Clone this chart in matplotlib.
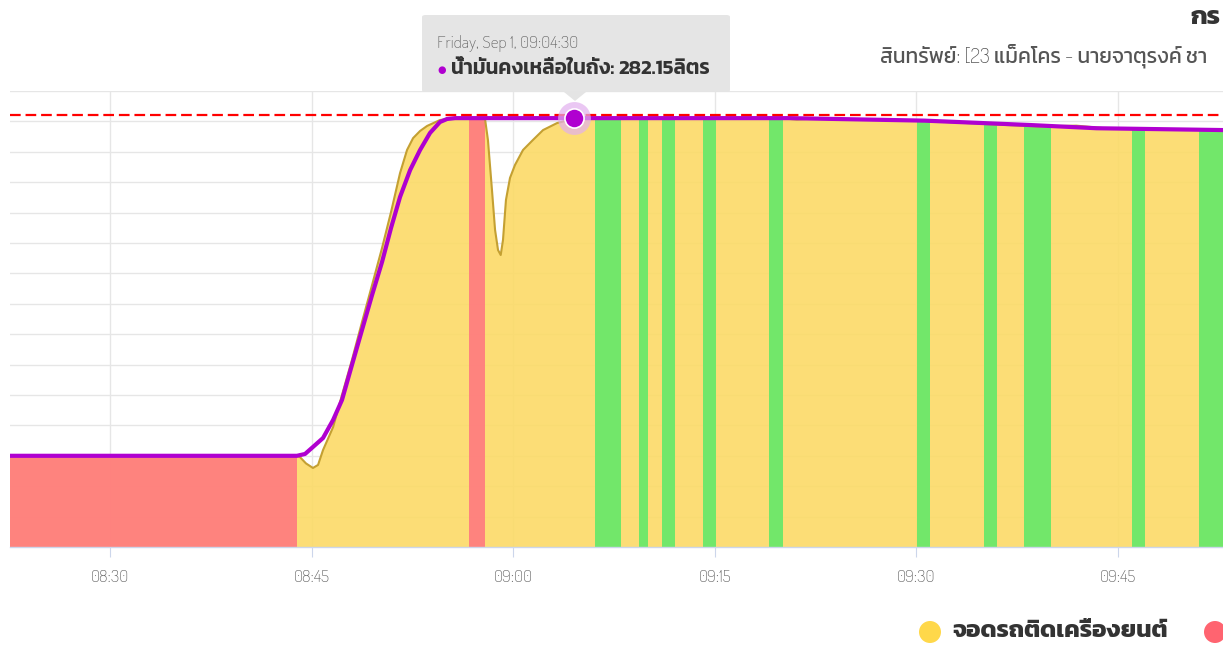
import matplotlib
matplotlib.use("Agg")
import matplotlib.pyplot as plt
from matplotlib.patches import Polygon, FancyBboxPatch, Circle
import matplotlib.ticker as mticker

FONT = ['Dosis', 'Kanit', 'Bai Jamjuree', 'DejaVu Sans']
THAI = ['Kanit', 'Bai Jamjuree', 'DejaVu Sans']
plt.rcParams['font.family'] = FONT

# ---------------- data (minutes after 08:00) ----------------
raw_t = [22.56, 43.9, 44.13, 44.58, 45.1, 45.48, 45.85, 46.6, 47.26, 48.0, 48.75,
         49.5, 50.24, 50.91, 51.58, 52.1, 52.55, 53.07, 53.59, 54.55, 55.3,
         57.9, 58.12, 58.42, 58.65, 58.87, 59.07, 59.24, 59.46, 59.76, 60.13,
         60.73, 61.47, 62.22, 63.26, 64.45,
         70.0, 79.5, 81.1, 82.5, 84.2, 86.7, 90.0, 96.0, 99.0, 101.9, 104.0, 107.0, 112.81]
raw_v = [60, 60, 59.2, 55, 52, 54, 63.8, 78.9, 100, 123, 148,
         172.4, 196.7, 220.4, 246, 261.2, 269, 273.7, 277, 280.9, 281.9,
         281.8, 267.8, 234.9, 208.6, 195.4, 192.1, 202, 228.3, 242.8, 251.3,
         261.2, 267.8, 274.3, 278.9, 281.6,
         282.2, 282.3, 281.2, 282.0, 281.0, 281.3, 280.6, 277.9, 276.7, 277.2, 275.5, 275.0, 274.4]

fuel_t = [22.56, 43.91, 44.51, 45.1, 45.85, 46.6, 47.26, 48.0, 48.75, 49.5, 50.24,
          50.91, 51.58, 52.33, 53.07, 53.81, 54.55, 55.08, 55.67, 64.5, 80.6,
          90.6, 98.5, 103.4, 112.81]
fuel_v = [60, 60, 61.2, 65.8, 71.7, 83.6, 96.7, 119.7, 142.8, 165.8, 187.5,
          209.9, 230.3, 248, 261.2, 272.4, 279.6, 281.6, 282.15, 282.15, 282.15,
          280.5, 277.6, 275.5, 274.3]

red_start = [22.56, 56.71]
red_end = [43.9, 57.9]
green_start = [66.11, 69.34, 71.07, 74.10, 79.06, 90.07, 95.03, 98.03, 106.02, 111.0]
green_end = [68.04, 70.05, 72.06, 75.07, 80.05, 91.03, 96.02, 99.99, 107.01, 114.0]

limit_value = 284.2
tooltip_t = 64.5
tooltip_v = 282.15
xticks = [30, 45, 60, 75, 90, 105]
xtick_labels = ['08:30', '08:45', '09:00', '09:15', '09:30', '09:45']

title_text = 'กร'
subtitle_text = 'สินทรัพย์: [23 แม็คโคร - นายจาตุรงค์ ชา'
tooltip_line1 = 'Friday, Sep 1, 09:04:30'
tooltip_name = 'น้ำมันคงเหลือในถัง: '
tooltip_value = '282.15ลิตร'
legend_label = 'จอดรถติดเครื่องยนต์'

# ---------------- figure ----------------
W, H = 1223, 648
fig = plt.figure(figsize=(W / 100, H / 100), dpi=100)
fig.patch.set_facecolor('white')

def fx(px):
    return px / W

def fy(py):
    return (H - py) / H

ax = fig.add_axes([fx(10), fy(547), fx(1213), (547 - 91) / H])
ax.set_xlim(22.56, 112.81)
ax.set_ylim(0, 300)
for s in ['top', 'right', 'left']:
    ax.spines[s].set_visible(False)
ax.spines['bottom'].set_color('#CCD6EB')
ax.spines['bottom'].set_linewidth(1.0)
ax.spines['bottom'].set_zorder(6)

ax.yaxis.set_major_locator(mticker.MultipleLocator(20))
ax.set_yticklabels([])
ax.tick_params(axis='y', length=0)
ax.set_xticks(xticks)
ax.set_xticklabels(xtick_labels)
ax.tick_params(axis='x', length=7, color='#CCD6EB', width=0.8, pad=9,
               labelsize=12.5, labelcolor='#666666')
ax.grid(True, axis='both', color='#E6E6E6', linewidth=1.0, zorder=0)
ax.set_axisbelow(True)

alpha = 0.9
verts = [(raw_t[0], 0)] + list(zip(raw_t, raw_v)) + [(raw_t[-1], 0)]
poly = Polygon(verts, closed=True, facecolor='#FCDA67', edgecolor='none',
               alpha=alpha, zorder=1)
ax.add_patch(poly)
for a, b in zip(red_start, red_end):
    r = ax.axvspan(a, b, ymin=0, ymax=1, facecolor='#FF7980', edgecolor='none',
                   alpha=alpha, zorder=2)
    r.set_clip_path(poly)
for a, b in zip(green_start, green_end):
    r = ax.axvspan(a, b, ymin=0, ymax=1, facecolor='#63E969', edgecolor='none',
                   alpha=alpha, zorder=2)
    r.set_clip_path(poly)

ax.plot(raw_t, raw_v, color='#C4A032', linewidth=1.5, zorder=3,
        solid_joinstyle='round')
ax.plot(fuel_t, fuel_v, color='#B000D0', linewidth=3.0, zorder=4,
        solid_capstyle='round', solid_joinstyle='round')
ax.axhline(limit_value, color='#FF0000', linewidth=1.6, linestyle=(0, (4.8, 2.2)), zorder=5)

ax.scatter([tooltip_t], [tooltip_v], s=560, color='#E2B0EE', alpha=0.7, zorder=6, linewidths=0)
ax.scatter([tooltip_t], [tooltip_v], s=190, color='#B000D0', edgecolor='white',
           linewidths=1.2, zorder=7)

# ---------------- tooltip ----------------
box = FancyBboxPatch((fx(422), fy(92)), fx(308), (92 - 15) / H,
                     boxstyle='round,pad=0,rounding_size=0.003',
                     transform=fig.transFigure, facecolor='#E4E4E4', edgecolor='none',
                     alpha=0.95, zorder=10)
fig.patches.append(box)
tri = Polygon([(fx(564), fy(92)), (fx(586), fy(92)), (fx(575), fy(101))], closed=True,
              transform=fig.transFigure, facecolor='#E4E4E4', edgecolor='none', zorder=10)
fig.patches.append(tri)
fig.text(fx(437), fy(44), tooltip_line1, fontsize=12.5, color='#666666',
         va='center', ha='left', zorder=11)
fig.text(fx(437), fy(70), '●', fontsize=7, color='#B000D0', va='center', ha='left',
         family=['DejaVu Sans'], zorder=11)
t_name = fig.text(fx(451), fy(69), tooltip_name, fontsize=14.8, color='#333333',
                  va='center', ha='left', fontweight='semibold', family=THAI, zorder=11)
fig.canvas.draw()
bb = t_name.get_window_extent()
fig.text(bb.x1 / W, fy(69), tooltip_value, fontsize=14.8, color='#333333',
         va='center', ha='left', fontweight='semibold', family=THAI, zorder=11)

# ---------------- titles ----------------
fig.text(fx(1190), fy(18), title_text, fontsize=19, fontweight='bold', color='#333333',
         va='center', ha='left', family=THAI)
fig.text(fx(880), fy(56), subtitle_text, fontsize=15, color='#555555',
         va='center', ha='left')

# ---------------- legend ----------------
lax = fig.add_axes([0, 0, 1, 1], facecolor='none')
lax.set_xlim(0, W)
lax.set_ylim(H, 0)
lax.axis('off')
lax.add_patch(Circle((930, 632), 11, facecolor='#FFD84A', edgecolor='none'))
lax.add_patch(Circle((1215, 632), 11, facecolor='#FF6470', edgecolor='none'))
lax.text(952, 631, legend_label, fontsize=17.5, fontweight='bold', color='#333333',
         va='center', ha='left', family=THAI)

fig.savefig('out.png', dpi=100)
